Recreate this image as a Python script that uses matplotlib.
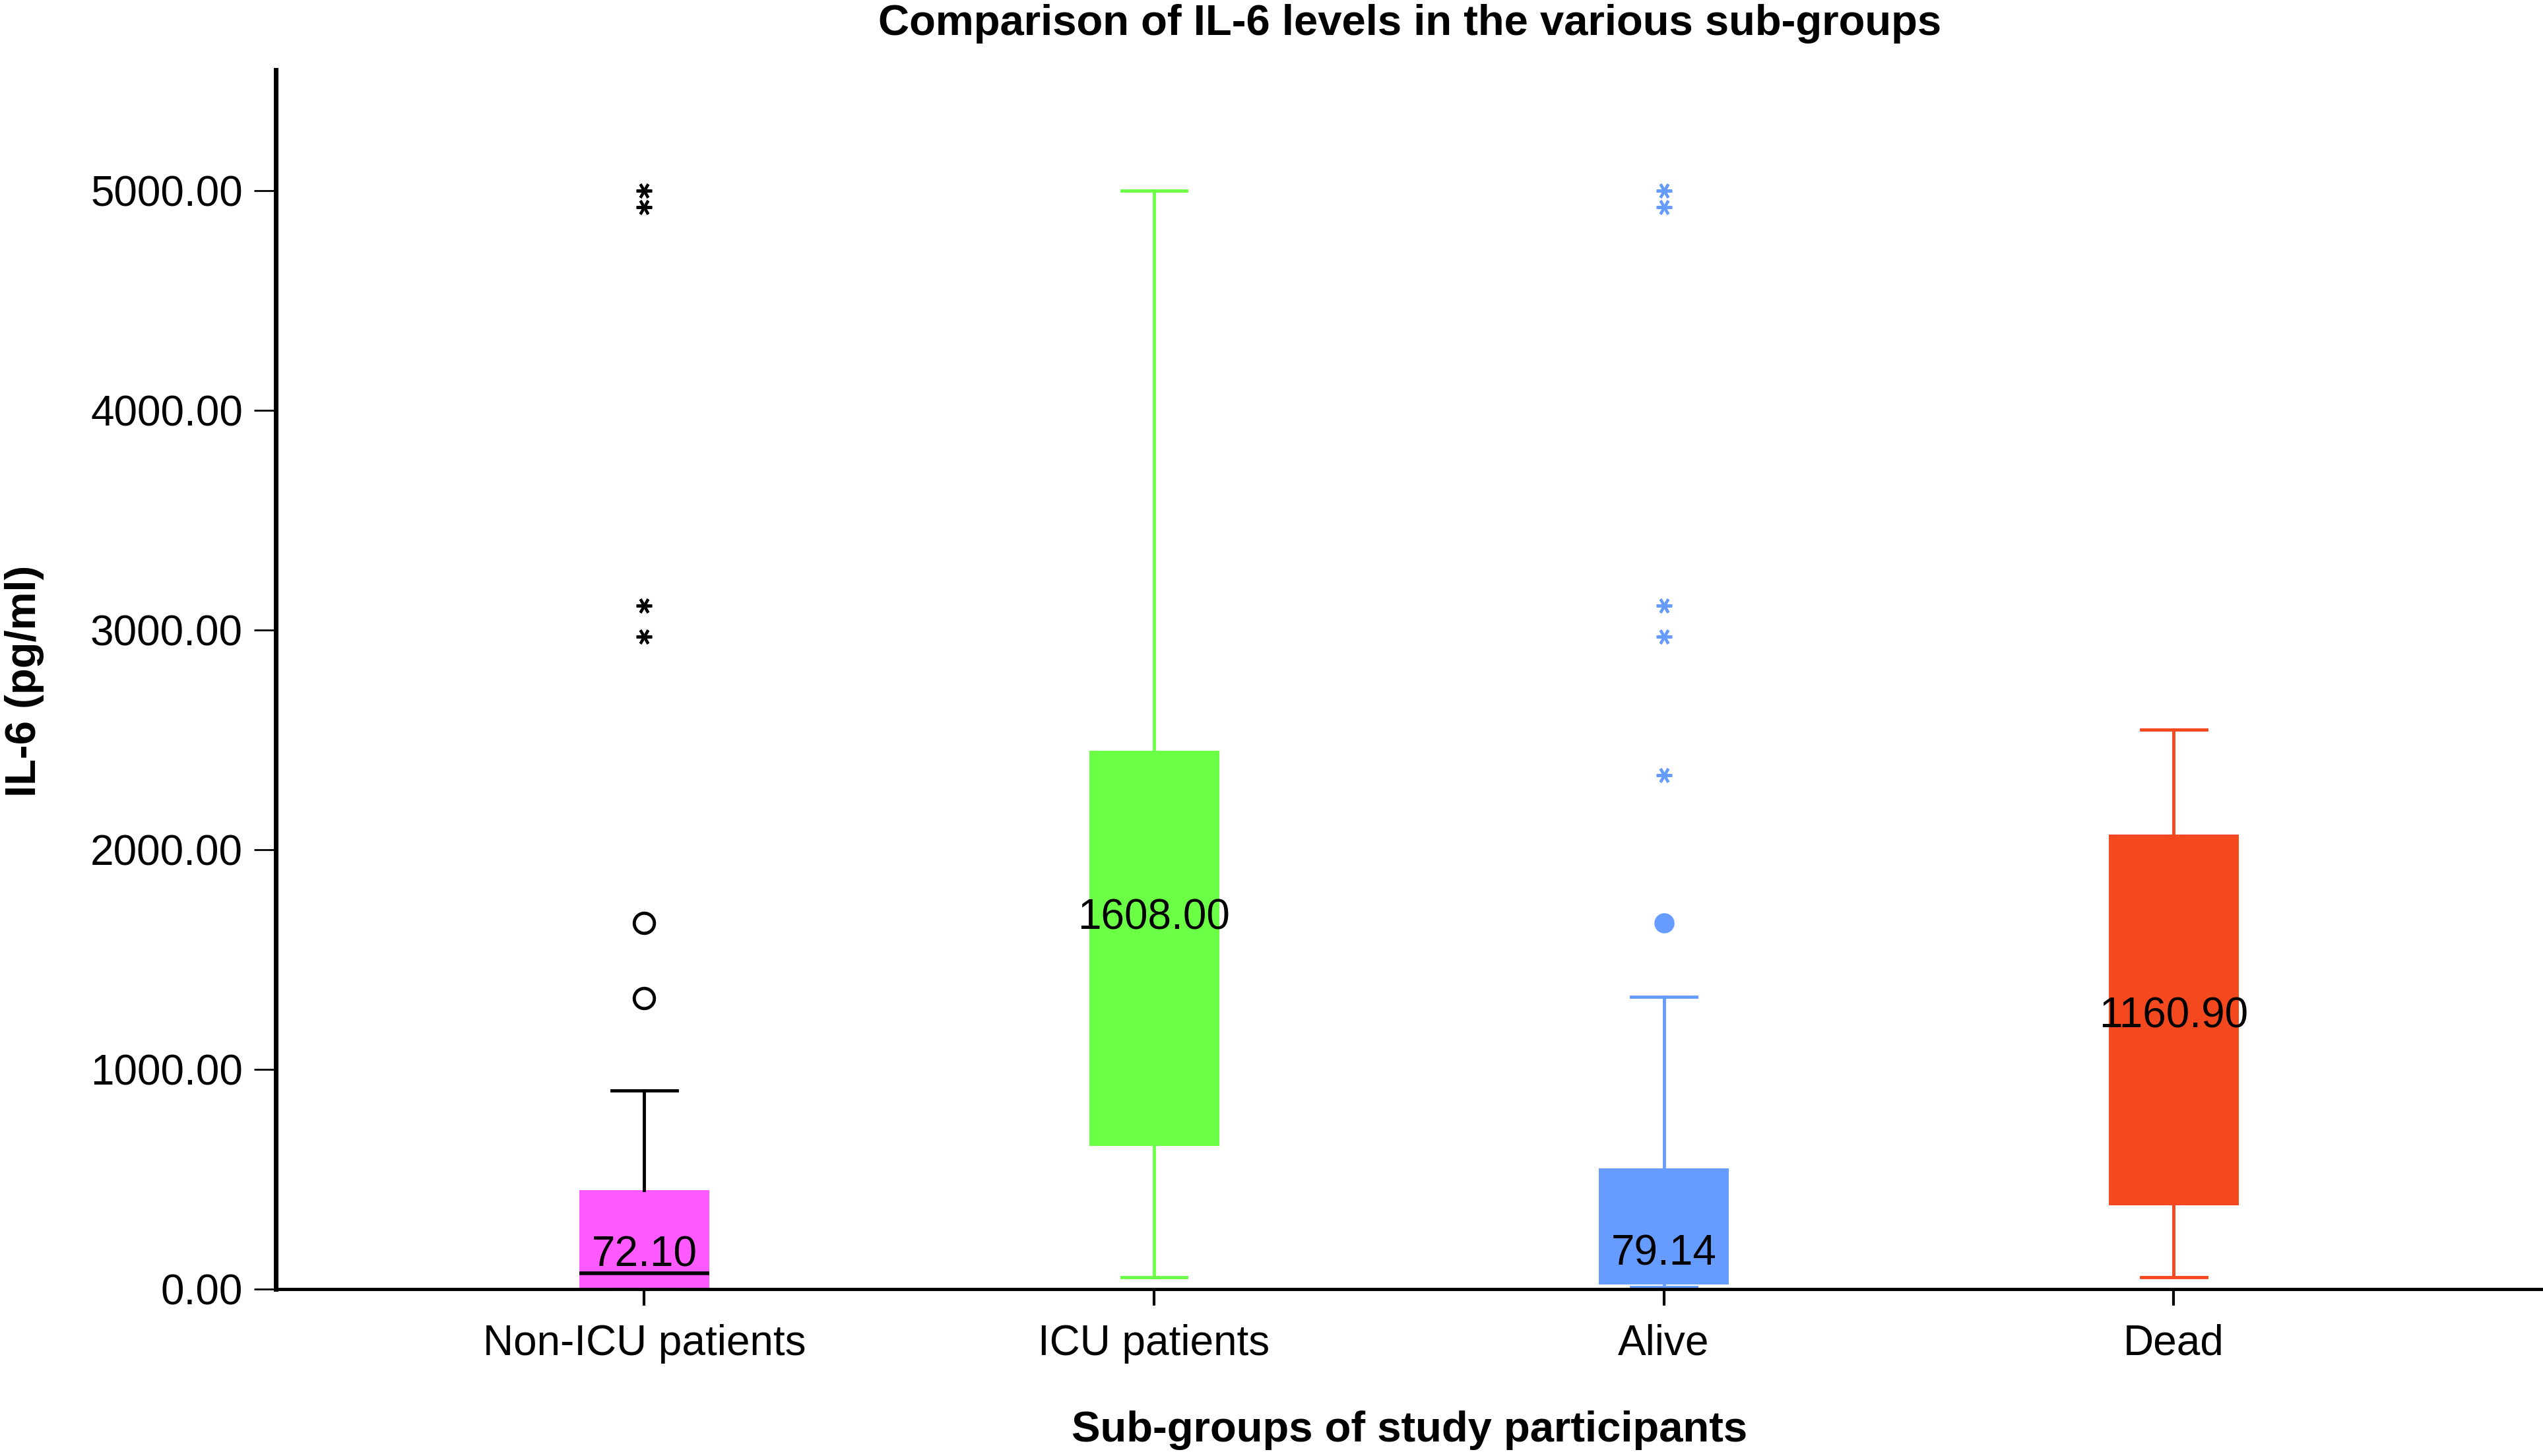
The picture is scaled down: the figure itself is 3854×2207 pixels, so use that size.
import matplotlib
matplotlib.use("Agg")
import matplotlib.pyplot as plt
from matplotlib.ticker import FormatStrFormatter

plt.rcParams['font.family'] = ['Liberation Sans', 'DejaVu Sans']

# ---- data ----
categories = ["Non-ICU patients", "ICU patients", "Alive", "Dead"]
whislo = [0.0, 55.0, 10.0, 55.0]
q1 = [0.0, 650.0, 22.0, 380.0]
medians = [72.10, 1608.00, 79.14, 1160.90]
q3 = [450.0, 2450.0, 550.0, 2070.0]
whishi = [905.0, 5000.0, 1330.0, 2545.0]
mild_outliers = [[1665.0, 1325.0], [], [1665.0], []]
extreme_outliers = [[5000.0, 4925.0, 3110.0, 2970.0], [], [5000.0, 4925.0, 3110.0, 2970.0, 2340.0], []]
median_labels = ["72.10", "1608.00", "79.14", "1160.90"]
yticks = [0, 1000, 2000, 3000, 4000, 5000]

box_colors = ["#FF5AFF", "#6BFF46", "#669CFF", "#F4481F"]
line_colors = ["#000000", "#6BFF46", "#669CFF", "#F4481F"]
median_colors = ["#000000", "#6BFF46", "#669CFF", "#F4481F"]

fig = plt.figure(figsize=(38.55, 22.07), dpi=100)
ax = fig.add_axes([0.1084, 0.1147, 0.8916, 0.8373])

positions = list(range(len(categories)))
stats = []
for i, c in enumerate(categories):
    stats.append(dict(label=c, whislo=whislo[i], q1=q1[i], med=medians[i],
                      q3=q3[i], whishi=whishi[i], fliers=[]))

for i, s in enumerate(stats):
    ax.bxp([s], positions=[positions[i]], widths=0.255, capwidths=0.128,
           patch_artist=True, showfliers=False, manage_ticks=False,
           boxprops=dict(facecolor=box_colors[i], edgecolor=box_colors[i], linewidth=0),
           whiskerprops=dict(color=line_colors[i], linewidth=3.5),
           capprops=dict(color=line_colors[i], linewidth=3.5),
           medianprops=dict(color=median_colors[i], linewidth=4))
    if mild_outliers[i]:
        if i == 0:
            ax.plot([positions[i]] * len(mild_outliers[i]), mild_outliers[i], linestyle='none',
                    marker='o', markersize=22, markerfacecolor='white',
                    markeredgecolor='black', markeredgewidth=3.5, zorder=4)
        else:
            ax.plot([positions[i]] * len(mild_outliers[i]), mild_outliers[i], linestyle='none',
                    marker='o', markersize=22, markerfacecolor=line_colors[i],
                    markeredgecolor=line_colors[i], markeredgewidth=0, zorder=4)
    if extreme_outliers[i]:
        ax.plot([positions[i]] * len(extreme_outliers[i]), extreme_outliers[i], linestyle='none',
                marker=(6, 2, 90), markersize=17, markeredgewidth=3,
                color=line_colors[i], zorder=4)
    ax.annotate(median_labels[i], xy=(positions[i], medians[i]), xytext=(0, -2),
                textcoords='offset points', ha='center', va='bottom',
                fontsize=46, color='black', zorder=5)

ax.set_xlim(-0.723, 3.726)
ax.set_ylim(0, 5550)
ax.set_xticks(positions)
ax.set_xticklabels(categories)
ax.set_yticks(yticks)
ax.yaxis.set_major_formatter(FormatStrFormatter('%.2f'))

for side in ['top', 'right']:
    ax.spines[side].set_visible(False)
ax.spines['left'].set_linewidth(5)
ax.spines['bottom'].set_linewidth(3.5)
ax.tick_params(axis='y', direction='out', length=24, width=2, pad=12, labelsize=46)
ax.tick_params(axis='x', direction='out', length=18, width=3, pad=20, labelsize=46)

fig.text(0.5542, 1 - 14.5 / 898, "Comparison of IL-6 levels in the various sub-groups",
         ha='center', va='center', fontsize=47, fontweight='bold')
fig.text(0.5542, 1 - 882 / 898, "Sub-groups of study participants",
         ha='center', va='center', fontsize=47, fontweight='bold')
fig.text(0.0095, 1 - 420 / 898, "IL-6 (pg/ml)", rotation=90,
         ha='center', va='center', fontsize=47, fontweight='bold')

fig.savefig("out.png", dpi=100)
